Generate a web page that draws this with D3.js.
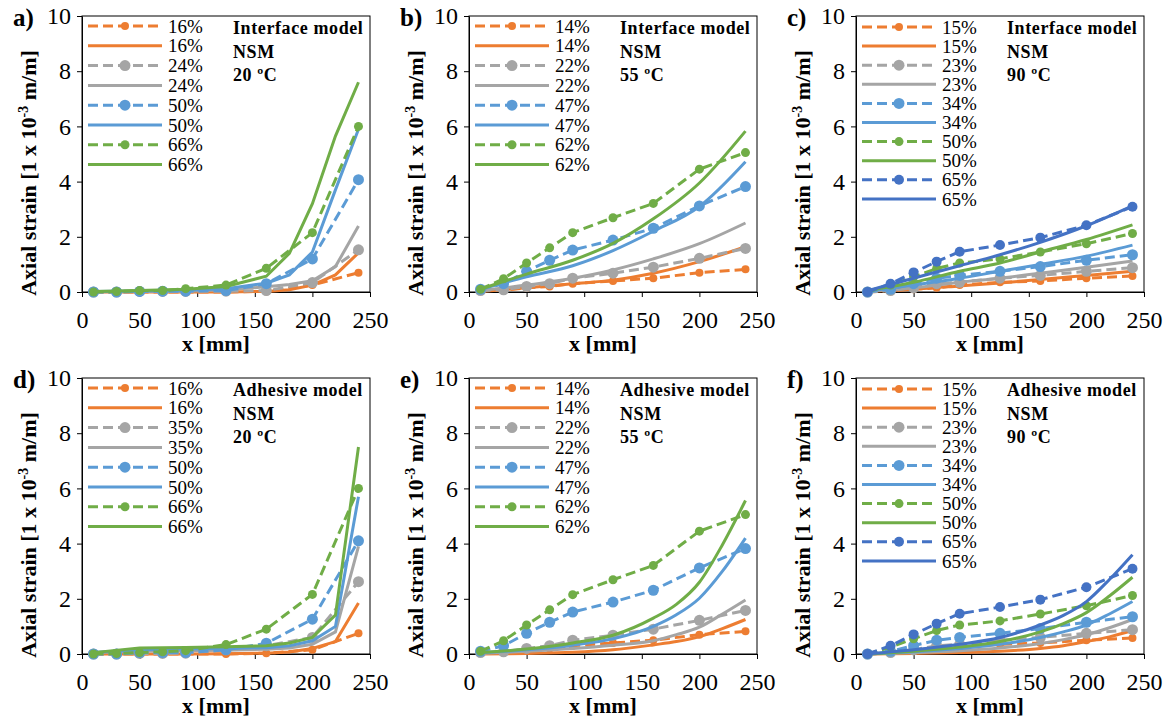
<!DOCTYPE html>
<html lang="en">
<head>
<meta charset="UTF-8">
<title>Axial strain along the NSM strip</title>
<script src="https://d3js.org/d3.v7.min.js"></script>
<style>
  body { margin: 0; background: #fff; }
  svg text { font-family: 'Liberation Serif', 'Times New Roman', serif; fill: #000; }
</style>
</head>
<body>
<svg width="1168" height="718"></svg>
<script>
// measured points (dashed lines with markers)
const expX = [10, 30, 50, 70, 90, 125, 160, 200, 240];
// model curves (solid lines)
const modX7 = [10, 50, 90, 125, 160, 200, 240];
const modX9 = [10, 50, 90, 125, 160, 180, 200, 220, 240];

const xTicks = [0, 50, 100, 150, 200, 250];
const yTicks = [0, 2, 4, 6, 8, 10];

const panelLetters = ['a)', 'b)', 'c)', 'd)', 'e)', 'f)'];
const modelNames = ['Interface model', 'Interface model', 'Interface model',
                    'Adhesive model', 'Adhesive model', 'Adhesive model'];
const temperatures = ['20 ºC', '55 ºC', '90 ºC', '20 ºC', '55 ºC', '90 ºC'];

const levelsA = ['16%', '24%', '50%', '66%'];
const levelsB = ['14%', '22%', '47%', '62%'];
const levelsC = ['15%', '23%', '34%', '50%', '65%'];
const levelsD = ['16%', '35%', '50%', '66%'];

// a) Interface model, 20 ºC
const expA = [
  [0, 0, 0, 0, 0, 0, 0.02, 0.25, 0.7],
  [0, 0, 0.02, 0.02, 0.02, 0.03, 0.05, 0.34, 1.53],
  [0, 0, 0.02, 0.03, 0.03, 0.05, 0.3, 1.2, 4.07],
  [0, 0.02, 0.05, 0.05, 0.12, 0.25, 0.86, 2.15, 6.0]
];
const modA = [
  [0, 0, 0, 0, 0.02, 0.08, 0.25, 0.62, 1.42],
  [0.01, 0.02, 0.03, 0.08, 0.19, 0.27, 0.41, 0.92, 2.39],
  [0.02, 0.04, 0.06, 0.12, 0.32, 0.62, 1.45, 3.7, 5.9],
  [0.02, 0.05, 0.1, 0.2, 0.57, 1.4, 3.2, 5.65, 7.6]
];

// b) Interface model, 55 ºC
const expB = [
  [0.05, 0.06, 0.15, 0.2, 0.3, 0.4, 0.5, 0.7, 0.82],
  [0.05, 0.08, 0.2, 0.3, 0.5, 0.68, 0.9, 1.22, 1.58],
  [0.1, 0.3, 0.75, 1.15, 1.52, 1.88, 2.31, 3.12, 3.82],
  [0.1, 0.48, 1.05, 1.6, 2.15, 2.69, 3.21, 4.45, 5.05]
];
const modB = [
  [0.02, 0.15, 0.3, 0.43, 0.68, 1.1, 1.64],
  [0.05, 0.25, 0.5, 0.8, 1.2, 1.75, 2.5],
  [0.1, 0.55, 0.95, 1.5, 2.2, 3.1, 4.72],
  [0.1, 0.65, 1.15, 1.76, 2.65, 3.95, 5.83]
];

// c) Interface model, 90 ºC
const expC = [
  [0, 0.05, 0.1, 0.15, 0.25, 0.35, 0.4, 0.5, 0.58],
  [0, 0.05, 0.15, 0.3, 0.35, 0.5, 0.6, 0.75, 0.88],
  [0, 0.1, 0.3, 0.5, 0.6, 0.75, 0.92, 1.15, 1.35],
  [0, 0.25, 0.55, 0.85, 1.05, 1.2, 1.45, 1.75, 2.12],
  [0, 0.3, 0.71, 1.1, 1.46, 1.7, 1.97, 2.42, 3.09]
];
const modC = [
  [0.02, 0.1, 0.22, 0.33, 0.45, 0.6, 0.75],
  [0.02, 0.15, 0.35, 0.5, 0.68, 0.9, 1.12],
  [0.03, 0.25, 0.5, 0.75, 1.0, 1.3, 1.7],
  [0.05, 0.35, 0.75, 1.05, 1.45, 1.9, 2.43],
  [0.05, 0.5, 0.95, 1.35, 1.8, 2.4, 3.12]
];

// d) Adhesive model, 20 ºC
const expD = [
  [0, 0, 0, 0, 0, 0, 0.03, 0.15, 0.75],
  [0, 0, 0.02, 0.02, 0.03, 0.15, 0.3, 0.6, 2.62],
  [0, 0, 0.05, 0.05, 0.05, 0.15, 0.39, 1.26, 4.1],
  [0, 0.02, 0.05, 0.08, 0.12, 0.34, 0.9, 2.16, 6.0]
];
const modD = [
  [0, 0, 0, 0.01, 0.03, 0.07, 0.2, 0.45, 1.85],
  [0.05, 0.1, 0.12, 0.14, 0.17, 0.22, 0.35, 0.8, 3.9],
  [0.05, 0.15, 0.18, 0.2, 0.23, 0.3, 0.48, 1.0, 5.7],
  [0.05, 0.22, 0.24, 0.26, 0.3, 0.4, 0.6, 1.41, 7.5]
];

// e) Adhesive model, 55 ºC (same measurements as b)
const modE = [
  [0, 0.02, 0.06, 0.15, 0.33, 0.45, 0.63, 0.92, 1.25],
  [0.02, 0.1, 0.2, 0.32, 0.48, 0.7, 0.97, 1.45, 1.96],
  [0.05, 0.15, 0.32, 0.55, 1.0, 1.42, 2.02, 3.0, 4.2],
  [0.05, 0.18, 0.4, 0.68, 1.3, 1.8, 2.6, 3.96, 5.56]
];

// f) Adhesive model, 90 ºC (same measurements as c)
const modF = [
  [0, 0.02, 0.05, 0.1, 0.2, 0.3, 0.45, 0.62, 0.85],
  [0, 0.05, 0.12, 0.22, 0.38, 0.52, 0.7, 0.95, 1.25],
  [0, 0.08, 0.2, 0.35, 0.6, 0.8, 1.05, 1.45, 1.9],
  [0, 0.1, 0.25, 0.45, 0.8, 1.1, 1.5, 2.1, 2.78],
  [0, 0.15, 0.35, 0.6, 1.05, 1.4, 1.9, 2.7, 3.6]
];

const panels = [
  { levels: levelsA, exp: expA, mod: modA, modX: modX9, smooth: false },
  { levels: levelsB, exp: expB, mod: modB, modX: modX7, smooth: true },
  { levels: levelsC, exp: expC, mod: modC, modX: modX7, smooth: true },
  { levels: levelsD, exp: expD, mod: modD, modX: modX9, smooth: false },
  { levels: levelsB, exp: expB, mod: modE, modX: modX9, smooth: true },
  { levels: levelsC, exp: expC, mod: modF, modX: modX9, smooth: true }
];

// styles
const colors4 = ['#ED7D31', '#A5A5A5', '#5B9BD5', '#70AD47'];
const colors5 = ['#ED7D31', '#A5A5A5', '#5B9BD5', '#70AD47', '#4472C4'];
const radii4 = [4, 5.5, 5.5, 4.5];
const radii5 = [4, 5.5, 5.5, 4.5, 5];

const W = 288, H = 276;
const lefts = [82, 469, 856];
const tops = [16, 378];
const svg = d3.select('svg');

panels.forEach((p, i) => {
  const left = lefts[i % 3];
  const top = tops[Math.floor(i / 3)];
  const n = p.levels.length;
  const colors = n === 5 ? colors5 : colors4;
  const radii = n === 5 ? radii5 : radii4;

  const g = svg.append('g').attr('transform', `translate(${left},${top})`);
  const x = d3.scaleLinear().domain([0, 250]).range([0, W]);
  const y = d3.scaleLinear().domain([0, 10]).range([H, 0]);

  // plot area border
  g.append('rect')
    .attr('width', W).attr('height', H)
    .attr('fill', 'none').attr('stroke', '#000').attr('stroke-width', 1);

  const yAxis = g.append('g')
    .call(d3.axisLeft(y).tickValues(yTicks).tickSize(5).tickSizeOuter(0).tickPadding(6));
  const xAxis = g.append('g')
    .attr('transform', `translate(0,${H})`)
    .call(d3.axisBottom(x).tickValues(xTicks).tickSize(5).tickSizeOuter(0).tickPadding(14));
  [yAxis, xAxis].forEach(a => {
    a.attr('font-family', null);
    a.selectAll('text').style('font-size', '24px').attr('fill', '#000');
    a.selectAll('line, path').attr('stroke', '#000');
  });

  // axis titles
  g.append('text')
    .attr('x', W / 2 - 10).attr('y', H + 59)
    .attr('text-anchor', 'middle')
    .style('font-size', '22px').style('font-weight', 'bold')
    .text('x [mm]');

  const yt = g.append('text')
    .attr('transform', `translate(-46,${H / 2 + 19}) rotate(-90)`)
    .attr('text-anchor', 'middle')
    .style('font-size', '22px').style('font-weight', 'bold');
  yt.append('tspan').text('Axial strain [1 x 10');
  yt.append('tspan').attr('dy', -8).style('font-size', '14px').text('-3');
  yt.append('tspan').attr('dy', 8).text(' m/m]');

  // panel letter
  g.append('text')
    .attr('x', -69).attr('y', 10)
    .style('font-size', '25px').style('font-weight', 'bold')
    .text(panelLetters[i]);

  // series: measured (dashed + markers) then model (solid), per level
  const lineFn = d3.line()
    .x(d => x(d[0])).y(d => y(d[1]))
    .curve(p.smooth ? d3.curveMonotoneX : d3.curveLinear);

  p.levels.forEach((lev, k) => {
    const expPts = expX.map((xv, j) => [xv, p.exp[k][j]]);
    const modPts = p.modX.map((xv, j) => [xv, p.mod[k][j]]);

    g.append('path')
      .attr('d', d3.line().x(d => x(d[0])).y(d => y(d[1]))(expPts))
      .attr('fill', 'none').attr('stroke', colors[k])
      .attr('stroke-width', 3).attr('stroke-dasharray', '10,5');
    g.selectAll(null)
      .data(expPts)
      .join('circle')
      .attr('cx', d => x(d[0])).attr('cy', d => y(d[1]))
      .attr('r', radii[k]).attr('fill', colors[k]);

    g.append('path')
      .attr('d', lineFn(modPts))
      .attr('fill', 'none').attr('stroke', colors[k])
      .attr('stroke-width', 3);
  });

  // legend
  const step = n === 5 ? 19.1 : 19.8;
  const first = n === 5 ? 11 : 10;
  p.levels.forEach((lev, k) => {
    [0, 1].forEach(s => {
      const ry = first + (2 * k + s) * step;
      g.append('line')
        .attr('x1', 6).attr('x2', 80).attr('y1', ry).attr('y2', ry)
        .attr('stroke', colors[k]).attr('stroke-width', 3)
        .attr('stroke-dasharray', s === 0 ? '10,5' : null);
      if (s === 0) {
        g.append('circle')
          .attr('cx', 43).attr('cy', ry).attr('r', radii[k])
          .attr('fill', colors[k]);
      }
      g.append('text')
        .attr('x', 86).attr('y', ry).attr('dy', '0.35em')
        .style('font-size', '19px')
        .text(lev);
    });
  });

  // annotation
  [modelNames[i], 'NSM', temperatures[i]].forEach((t, k) => {
    g.append('text')
      .attr('x', 151).attr('y', 18 + k * 23.5)
      .style('font-size', '18px').style('font-weight', 'bold')
      .style('letter-spacing', '0.6px')
      .text(t);
  });
});
</script>
</body>
</html>
